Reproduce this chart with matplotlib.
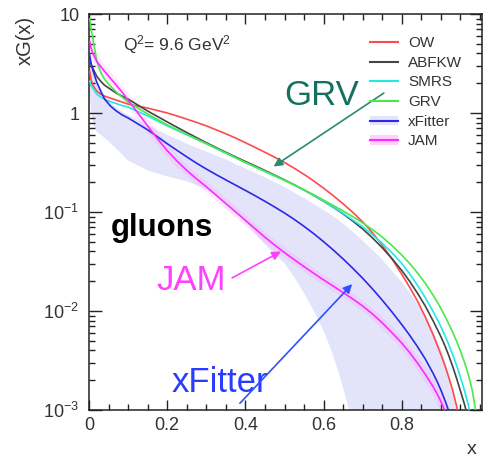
import matplotlib
matplotlib.use('Agg')
import numpy as np
import matplotlib.pyplot as plt
from matplotlib.lines import Line2D
from matplotlib.patches import Patch
from matplotlib.ticker import FixedLocator, FixedFormatter, LogLocator, NullFormatter, MultipleLocator

plt.rcParams['font.family'] = ['Liberation Sans', 'DejaVu Sans']
plt.rcParams['mathtext.fontset'] = 'custom'
plt.rcParams['mathtext.rm'] = 'Liberation Sans'
plt.rcParams['mathtext.it'] = 'Liberation Sans:italic'

# x points; curve values are read as log10(xG)
x_pts = [0.002, 0.005, 0.01, 0.02, 0.03, 0.04, 0.055, 0.07, 0.085, 0.1, 0.125, 0.15, 0.175,
         0.2, 0.225, 0.25, 0.275, 0.3, 0.325, 0.35, 0.375, 0.4, 0.425, 0.45, 0.475, 0.5,
         0.525, 0.55, 0.575, 0.6, 0.625, 0.65, 0.675, 0.7, 0.725, 0.75, 0.775, 0.8,
         0.82, 0.84, 0.86, 0.88, 0.89, 0.9, 0.91, 0.92, 0.93, 0.94, 0.95, 0.96, 0.97, 0.98, 0.99, 1.0]

ow_log = [0.42, 0.34, 0.28, 0.22, 0.19, 0.17, 0.15, 0.13, 0.11, 0.09, 0.07, 0.05, 0.025,
          0.0, -0.03, -0.062, -0.095, -0.13, -0.17, -0.21, -0.253, -0.30, -0.348, -0.397, -0.447, -0.50,
          -0.558, -0.62, -0.687, -0.76, -0.836, -0.918, -1.005, -1.10, -1.21, -1.335, -1.475, -1.63,
          -1.76, -1.90, -2.06, -2.24, -2.34, -2.44, -2.55, -2.67, -2.80, -2.96, -3.14, -3.4, -3.7, -4.0, -4.5, -5.0]
abfkw_log = [0.55, 0.5, 0.45, 0.37, 0.32, 0.28, 0.24, 0.2, 0.17, 0.14, 0.08, 0.02, -0.035,
             -0.09, -0.144, -0.197, -0.249, -0.30, -0.349, -0.397, -0.444, -0.49, -0.535, -0.581, -0.628, -0.676,
             -0.726, -0.778, -0.833, -0.891, -0.953, -1.02, -1.093, -1.172, -1.262, -1.362, -1.472, -1.592,
             -1.70, -1.82, -1.95, -2.10, -2.18, -2.26, -2.35, -2.45, -2.56, -2.68, -2.81, -2.94, -3.09, -3.3, -3.6, -4.0]
smrs_log = [0.32, 0.28, 0.25, 0.19, 0.16, 0.14, 0.115, 0.095, 0.075, 0.06, 0.015, -0.03, -0.08,
            -0.13, -0.175, -0.22, -0.265, -0.31, -0.358, -0.406, -0.453, -0.50, -0.545, -0.59, -0.635, -0.68,
            -0.728, -0.778, -0.832, -0.89, -0.951, -1.015, -1.082, -1.15, -1.23, -1.317, -1.413, -1.52,
            -1.625, -1.74, -1.865, -2.005, -2.08, -2.16, -2.245, -2.34, -2.44, -2.55, -2.67, -2.80, -2.95, -3.13, -3.4, -3.8]
grv_log = [0.95, 0.85, 0.75, 0.52, 0.41, 0.34, 0.27, 0.21, 0.16, 0.11, 0.05, -0.01, -0.065,
           -0.12, -0.168, -0.216, -0.263, -0.31, -0.357, -0.404, -0.452, -0.50, -0.545, -0.59, -0.635, -0.68,
           -0.727, -0.776, -0.827, -0.88, -0.935, -0.99, -1.048, -1.11, -1.178, -1.254, -1.34, -1.435,
           -1.52, -1.615, -1.72, -1.84, -1.905, -1.975, -2.05, -2.13, -2.215, -2.305, -2.405, -2.515, -2.64, -2.8, -3.03, -3.4]
xfitter_log = [0.58, 0.5, 0.43, 0.31, 0.22, 0.14, 0.07, 0.02, -0.02, -0.05, -0.11, -0.17, -0.24,
               -0.31, -0.377, -0.443, -0.507, -0.566, -0.622, -0.676, -0.729, -0.782, -0.836, -0.892, -0.95, -1.01,
               -1.075, -1.145, -1.22, -1.30, -1.385, -1.475, -1.57, -1.67, -1.777, -1.891, -2.011, -2.138,
               -2.245, -2.36, -2.485, -2.63, -2.71, -2.80, -2.90, -3.01, -3.13, -3.26, -3.4, -3.6, -3.9, -4.2, -4.6, -5.0]
jam_log = [0.72, 0.66, 0.6, 0.52, 0.47, 0.42, 0.35, 0.28, 0.21, 0.13, 0.0, -0.13, -0.26,
           -0.38, -0.485, -0.58, -0.665, -0.745, -0.83, -0.915, -1.0, -1.085, -1.17, -1.255, -1.335, -1.41,
           -1.482, -1.552, -1.62, -1.686, -1.75, -1.814, -1.88, -1.95, -2.03, -2.12, -2.22, -2.325,
           -2.42, -2.525, -2.64, -2.765, -2.835, -2.915, -3.005, -3.11, -3.25, -3.4, -3.6, -3.9, -4.2, -4.5, -4.8, -5.0]

# xFitter uncertainty band (log10)
band_x = [0.002, 0.005, 0.01, 0.02, 0.04, 0.07, 0.1, 0.15, 0.2, 0.25,
          0.3, 0.35, 0.4, 0.45, 0.5, 0.525, 0.55, 0.575, 0.6, 0.62,
          0.64, 0.66, 0.68, 0.7, 0.75, 0.8, 0.83, 0.86, 0.88, 0.9,
          0.91, 0.92, 0.93, 0.94, 0.95]
band_hi_log = [0.6, 0.52, 0.45, 0.33, 0.17, 0.05, -0.02, -0.12, -0.22, -0.31,
               -0.39, -0.47, -0.56, -0.65, -0.75, -0.805, -0.86, -0.92, -0.98, -1.03,
               -1.09, -1.15, -1.22, -1.29, -1.48, -1.71, -1.87, -2.05, -2.2, -2.38,
               -2.5, -2.63, -2.8, -3.02, -3.4]
band_lo_log = [0.2, 0.02, -0.1, -0.19, -0.25, -0.36, -0.48, -0.58, -0.64, -0.69,
               -0.77, -0.9, -1.1, -1.33, -1.52, -1.66, -1.82, -2.0, -2.2, -2.4,
               -2.64, -2.92, -3.25, -3.6, -5.0, -5.0, -5.0, -5.0, -5.0, -5.0,
               -5.0, -5.0, -5.0, -5.0, -5.0]

names = ['OW', 'ABFKW', 'SMRS', 'GRV', 'xFitter', 'JAM']
colors = ['#ff4a4a', '#444444', '#22e8e8', '#4ae84a', '#2a2ae6', '#ff2aff']
series = [ow_log, abfkw_log, smrs_log, grv_log, xfitter_log, jam_log]

y_ticks = [1e-3, 1e-2, 1e-1, 1, 10]
y_labels = ['$10^{-3}$', '$10^{-2}$', '$10^{-1}$', '1', '10']
x_ticks = [0, 0.2, 0.4, 0.6, 0.8]
x_labels = ['0', '0.2', '0.4', '0.6', '0.8']

fig = plt.figure(figsize=(4.84, 4.62), dpi=100)
ax = fig.add_axes([89 / 484, 1 - 410 / 462, 393 / 484, 396 / 462])
ax.set_yscale('log')

band_col = '#e3e3fa'
ax.fill_between(band_x, 10 ** np.array(band_lo_log), 10 ** np.array(band_hi_log),
                color=band_col, lw=0, zorder=1)

# JAM glow
ax.plot(x_pts, 10 ** np.array(jam_log), color='#ff80ff', lw=6, alpha=0.18, zorder=2)

for name, col, ys in zip(names, colors, series):
    ax.plot(x_pts, 10 ** np.array(ys), color=col, lw=1.2, zorder=3)

ax.set_xlim(0, 1.005)
ax.set_ylim(1e-3, 10)

ax.yaxis.set_major_locator(FixedLocator(y_ticks))
ax.yaxis.set_major_formatter(FixedFormatter(y_labels))
ax.yaxis.set_minor_locator(LogLocator(base=10, subs=range(2, 10)))
ax.yaxis.set_minor_formatter(NullFormatter())
ax.xaxis.set_major_locator(FixedLocator(x_ticks))
ax.xaxis.set_major_formatter(FixedFormatter(x_labels))
ax.xaxis.set_minor_locator(MultipleLocator(0.05))

ax.tick_params(which='both', direction='in', top=True, right=True, colors='#222222',
               labelcolor='#333333', labelsize=13)
ax.tick_params(axis='y', which='major', length=9, width=1.0, pad=7)
ax.tick_params(axis='y', which='minor', length=4.5, width=1.0)
ax.tick_params(axis='x', which='major', length=7, width=1.0, pad=5)
ax.tick_params(axis='x', which='minor', length=4, width=1.0)
for s in ax.spines.values():
    s.set_linewidth(1.1)
    s.set_color('#222222')

fig.text(25 / 484, 1 - 40 / 462, 'xG(x)', rotation=90, ha='center', va='center',
         fontsize=14.5, color='#333333')
fig.text(472 / 484, 1 - 450 / 462, 'x', ha='center', va='center', fontsize=14, color='#333333')

ax.text(0.087, 4.86, 'Q$^2$= 9.6 GeV$^2$', fontsize=12.5, color='#333333', va='center', ha='left')
ax.text(0.187, 0.069, 'gluons', fontsize=22.5, fontweight='bold', color='black', ha='center', va='center')
ax.text(0.596, 1.51, 'GRV', fontsize=25, color='#14715f', ha='center', va='center')
ax.text(0.261, 0.0201, 'JAM', fontsize=25, color='#ff40ff', ha='center', va='center')
ax.text(0.335, 0.00188, 'xFitter', fontsize=25, color='#2a3cff', ha='center', va='center')

arw = dict(arrowstyle='-|>', lw=1.2, mutation_scale=13, shrinkA=0, shrinkB=0)
ax.annotate('', xy=(0.472, 0.288), xytext=(0.754, 1.59), arrowprops=dict(arw, color='#2a8a6e'))
ax.annotate('', xy=(0.491, 0.0399), xytext=(0.366, 0.0216), arrowprops=dict(arw, color='#ff40ff'))
ax.annotate('', xy=(0.673, 0.0187), xytext=(0.386, 0.00117), arrowprops=dict(arw, color='#3050ff'))

handles = []
for name, col in zip(names, colors):
    ln = Line2D([], [], color=col, lw=1.5)
    if name == 'xFitter':
        handles.append((Patch(facecolor=band_col, edgecolor='none'), ln))
    elif name == 'JAM':
        handles.append((Patch(facecolor='#ffd0ff', edgecolor='none'), ln))
    else:
        handles.append(ln)
leg = ax.legend(handles, names, loc='upper left', bbox_to_anchor=(0.715, 0.944), frameon=False,
                fontsize=11, handlelength=1.85, handletextpad=0.65, labelspacing=0.37,
                borderpad=0, borderaxespad=0, handleheight=0.55)
for t in leg.get_texts():
    t.set_color('#333333')

fig.savefig('out.png', dpi=100)
